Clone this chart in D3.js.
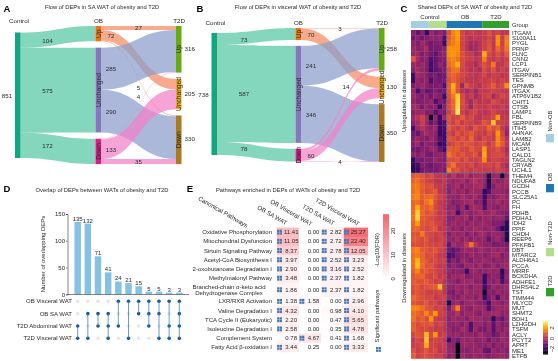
<!DOCTYPE html>
<html>
<head>
<meta charset="utf-8">
<script src="https://cdn.jsdelivr.net/npm/d3@7"></script>
<style>
  html, body { margin: 0; padding: 0; background: #fff; }
  svg { display: block; filter: blur(0.35px); }
  text { font-family: "Liberation Sans", Arial, sans-serif; fill: #2a2a2a; }
</style>
</head>
<body>
<script>
// ---- data ----
const stateNames = ['Up', 'Unchanged', 'Down'];
const saControlToOb = [104, 575, 172];
const saObToT2d = [[27, 72, 5], [285, 0, 290], [4, 133, 35]];
const visceralControlToOb = [73, 587, 78];
const visceralObToT2d = [[3, 70, 0], [241, 0, 346], [14, 60, 4]];

const groupNames = ['Non-OB', 'OB', 'Non-T2D', 'T2D'];
const upGenes = ['ITGAM', 'S100A11', 'PYGL', 'PRNP', 'FLNC', 'CNN2', 'LCP1', 'ITGAV', 'SERPINB1', 'TES', 'GPNMB', 'ITGAX', 'ATP6V1B2', 'CHIT1', 'CTSB', 'LAMP1', 'FBL', 'SERPINB9', 'ITIH5', 'AHNAK', 'LAMB2', 'MCAM', 'LASP1', 'CALD1', 'TAGLN2', 'CRYAB', 'UCHL1'];
const downGenes = ['THEM4', 'NDUFA8', 'GCDH', 'PCCB', 'SLC25A1', 'PC', 'FH', 'PDHB', 'PDHA1', 'IDH2', 'PPIF', 'CHDH', 'REEP6', 'PFKFB1', 'DBT', 'MTARC2', 'ALDH6A1', 'PCCA', 'MRRF', 'BCKDHA', 'ADHFE1', 'DHRS4L2', 'TST', 'TIMM44', 'MLYCD', 'MUT', 'SHMT2', 'BDH1', 'L2HGDH', 'TSFM', 'ACLY', 'PCYT2', 'APRT', 'ME1', 'ETFB'];
// one row per gene: 8 control samples, 8 OB, 6 T2D
const upValues = [
  [-.6,-1.2,-.6,-2,-.4,-.8,-.5,-.8,.8,1.6,2,.6,.2,.4,.3,.2,.4,.8,.3,.6,.2,.3],
  [-1,-.6,-1,-.8,-.5,-.6,-.4,-1.5,1,1.5,2,.6,.3,.1,.3,.2,.3,.6,.2,1.8,.4,1.5],
  [-.5,-.8,-.3,-.6,-1,-.8,-.6,-1.8,1.2,1.5,1.8,.5,.2,-.2,-.2,.1,.5,.8,.2,1.8,.4,1.6],
  [-.3,-.6,-.5,-.2,-1,-.9,-.8,-.6,1.8,1.8,1.8,.6,.1,-.3,-.2,.2,.5,.9,.3,1.2,.6,1.4],
  [-.4,-.3,-.8,-.5,-1,-1.3,-.7,-.5,1.8,1.9,1.7,.8,.4,.3,-.1,.2,2.3,.7,.3,.8,.3,1],
  [.9,-.2,-.7,-.6,-1.5,-1.2,-.8,-.7,1.5,1.7,1.4,.7,.5,.4,.2,.3,1.6,.4,.2,.6,.2,.5],
  [-.3,-.5,-.4,-.7,-1.6,-1.1,-.5,-.9,1.3,1.6,2.3,.7,.3,.2,-.2,.4,.8,.5,1.5,.2,.3,.6],
  [-.6,-.2,-.5,-.8,-1.7,-1.3,-1,-.8,.9,1.3,1.4,.5,.4,.1,.2,-.1,.7,.3,.8,.2,.5,.2],
  [-1.7,-.2,-.4,-.7,-1,-.8,-1.1,-1,1,1.2,.9,.6,.4,.3,.1,.3,.6,.2,.4,.4,.1,.3],
  [-1.8,-.4,-.6,-.5,-1.5,-.8,-1,-.8,.8,1.1,.8,.5,.3,.2,.2,.4,.3,.5,.5,.3,.5,.4],
  [-.8,-.5,-.3,-.6,-.9,-.9,-.7,-1.5,1.1,2.2,.9,-.3,.9,.4,.3,.1,.5,.6,1,.4,.6,1.8],
  [-.4,-1.6,-.7,-1.2,-1.1,-.7,-1,-.9,.9,2,.8,.1,-.2,.2,-.3,.3,.3,.4,.5,.4,.3,.2],
  [-.3,-.6,-.9,-.5,-1,-.5,-.7,-1.8,.8,1.5,2.6,.7,.1,.4,-.2,.2,.4,.6,-.2,.3,.6,.4],
  [-.5,-.8,-.7,-.6,-.4,-1.5,-.8,-1,.6,1.2,2.7,.8,.2,-.2,.4,.1,.3,.2,.7,.5,.2,.3],
  [-.2,-.3,-.9,-.4,-.7,-.6,-1.8,-.7,.7,1.2,2.8,.6,.3,-.4,.5,.3,.2,.5,.3,.2,.4,.1],
  [-.6,-.4,-.3,-.8,-.6,-1.4,-.7,-.9,.5,1,3,.5,.1,.5,.6,.2,.1,.3,.6,.3,.2,.1],
  [-.3,.1,.5,-.2,-2.6,-.5,-1.8,-.4,.9,.5,.6,1,.5,.7,.2,.1,.4,.4,.6,2,.3,.3],
  [-.6,-.2,.4,-.3,-1.2,-.7,-1.8,-1.5,.8,.4,.9,.3,.6,.5,.3,.4,.9,.7,2.5,.5,.4,.3],
  [-1.6,-.3,.1,-.4,-.6,-.3,-1.8,-1.6,1,.6,.4,.8,.5,.2,.9,.6,.5,1.2,.7,1.1,.3,-.2],
  [-.9,-1.2,-.5,-.2,-.5,-.6,-1.9,-1.7,.7,.3,.9,.5,.7,1,.6,.4,.3,.8,.4,1.9,.6,-.4],
  [-.8,-.4,-.6,-.8,-.3,-.7,-1.5,-1.8,.9,.8,.5,.9,.6,1.2,.4,.2,.7,.5,.3,1.7,.8,.1],
  [-.7,-.3,-1,-.5,-.6,-.9,-1.9,-1.8,.5,.6,.9,.7,.9,.8,.5,.7,.8,.3,.7,1.6,1,.2],
  [-.9,-1,-.7,-.8,-.4,-.5,-1.2,-1.7,1.1,.9,1,.6,.5,1,.7,.6,2,.5,.5,.9,.4,-.1],
  [-.5,-.7,-.4,-.9,-1,-.6,-.5,-.7,1.5,1,.7,.9,.6,.7,.9,.3,2.2,.4,.6,.7,.6,.1],
  [-1.9,-.8,-.9,-.7,-.8,-.4,-.6,-.8,.8,.7,.9,.5,.8,.4,.4,.6,1.8,.3,.5,.5,.3,.2],
  [-2,-1.6,-.7,-.9,-1.1,-.8,-.7,-.6,.9,1.4,.6,.6,.4,.7,.2,.5,.5,.6,.4,.8,.2,-.2],
  [-2.1,-1.8,-1,-.8,-.9,-.9,-.6,-.9,1.6,.7,.9,.4,.6,.3,.5,.4,.3,.4,.3,.6,.4,.1]
];
const downValues = [
  [.9,1.1,.9,.5,.8,.3,.2,.2,-.3,.1,-.4,-.3,.1,-.5,-.2,-.1,-.4,-2.2,-.5,-.3,-2.4,-.3],
  [1.1,1.3,.9,.6,.5,.2,.1,.3,-.2,-.5,-.3,-.1,-.6,-.2,.1,-.3,-.5,-2.3,-.3,-.6,-.5,-.2],
  [1.4,1.5,1.1,.8,.9,.4,.3,.2,-.5,-.4,-.1,-.7,-.3,-.4,-.2,-.1,-.6,-2,-.8,-.2,-.4,-.3],
  [1.3,1.6,1,.7,.8,1,.2,.1,-.6,-.2,-.5,-.3,-.7,-.2,-.4,-.3,-2,-1.5,-.5,-.4,-.5,-.6],
  [1.5,1.7,1,1.2,1.3,.9,.5,.3,-.4,-.5,-.6,-.1,-.4,-.5,-.2,-.6,-1.8,-.6,-.8,-.4,-.2,-.5],
  [1.2,1.3,.9,1.4,1.8,.7,.3,.2,-.3,-.8,-.6,-.4,-.3,-.1,-.7,-.5,-1.7,-.3,-.5,-.2,-.6,-.4],
  [1.2,2.2,1.1,1,1.3,.6,.4,.1,-.5,-.5,-.9,-.3,-1.3,-.4,-.2,-.3,-1.5,-.4,-.6,-.7,-.3,-.5],
  [1.3,2.6,1.2,.8,1,.7,.2,.3,-.4,-.2,-1.6,-.5,-.3,-.6,-.4,-.1,-.5,-.4,-.2,-.5,-.7,-.8],
  [1.4,2.7,1,.9,.7,.5,.3,.2,-.6,-.7,-.3,-.5,-.2,-.8,-.3,-.6,-.4,-.3,-.6,-.4,-.5,-1.2],
  [1.2,2,.9,.8,.9,.6,.5,.1,-.5,-.3,-.5,-.4,-.6,-.3,-.5,-.4,-.3,-.5,-.8,-.7,-.9,-2],
  [1.1,1.2,.8,.6,.8,.9,.2,.3,-.2,-.6,-.4,-.7,-.3,-.5,-.2,-.3,-.6,-.4,-.5,-1,-2,-2.1],
  [.9,.8,1.5,.7,.6,.4,.6,.2,-.7,-.3,-.5,-.3,-.8,-.4,-.6,-.2,-.3,-.7,-.4,-.5,-.6,-2.2],
  [1,.9,.7,.9,.5,.3,.5,.4,-.4,-.6,-.2,-.6,-.3,-.7,-.4,-.5,-.5,-1.2,-.6,-.3,-.8,-2.3],
  [.7,.8,.6,.8,.6,.5,.7,.3,-1.2,-.2,-.5,-.4,.2,1.4,.1,-.3,-.6,-.5,-.9,-.8,-.7,-.9],
  [1.5,1.6,1,.9,.7,.9,.5,.4,-1,-1.3,-1,-.5,-.3,-.4,-.6,-.2,-.4,-.6,-.3,-.5,-.3,-.7],
  [1.3,1.5,1.1,.7,.8,.6,.3,.2,-1.6,-1.4,-.8,-.6,-.7,-.3,-.5,-.4,-.7,-.5,-.4,-.2,-.8,-.5],
  [1.4,2.3,1.2,.9,.6,.7,.4,.5,-1.2,-.6,-1,-.4,-.5,-.8,-.3,-.5,-.3,-.4,-.7,-.5,-.6,-.4],
  [1.3,2.4,1.3,.8,.9,.5,.2,.3,-.8,-.5,-.7,-.9,-.4,-.3,-.6,-.2,-.8,-.6,-.3,-.7,-.4,-.3],
  [1.1,1.7,.9,1,.7,.6,.4,.2,-.4,-.7,-.5,-.6,-1.8,-.5,-.3,-.6,-.5,-.3,-.6,-.4,-2,-.6],
  [.9,1.1,1.2,.7,.5,.8,.3,.4,-.6,-.3,-.4,-.2,-.7,-.6,-.5,-.4,-1.8,-.7,-.5,-.6,-1.8,-.4],
  [1,.9,.8,1,.7,.4,.6,.1,-.3,-.5,-.8,-.4,-.3,-.2,-.6,-.5,-1.9,-.5,-.7,-.3,-1.5,-.7],
  [.8,1,.6,.8,.9,1,2.4,.3,-.5,-.6,-.3,-.5,-.4,-.7,-.3,-.4,-1.7,-.9,-.4,-.6,-.5,-.3],
  [.7,.9,.7,.5,.4,.5,.7,.2,-.7,-.9,-.4,-.6,-.2,-.5,-.4,-.3,-2.5,-.6,-.8,-.4,-.6,-.5],
  [1.2,1,.8,.6,.7,.3,.4,.5,-.4,-.6,-.7,-.3,-.5,-.4,-.7,-.2,-1.8,-.8,-.5,-1.5,-.4,-.6],
  [.9,.8,.7,.9,.5,.6,.2,.3,-2.3,-.6,-.3,-.8,-.4,-.3,-.5,-.6,-.9,-1.6,-.3,-.5,-.7,-.4],
  [1.7,1.6,1.3,.9,.8,.4,.6,.3,-.8,.2,1.6,-.4,-.5,-.6,-.2,-.4,-.5,-1.5,-.6,-.3,-.4,-.3],
  [1.3,1.2,1,1.7,1,1.9,.5,.4,-.4,-.5,.1,-.6,-.3,-.4,-.5,-.7,-.3,-.4,-.3,-.2,-.6,-.5],
  [1.4,.9,1.1,.7,1.9,.5,.3,.2,-.6,-.3,-.5,-.4,-.7,-.2,-.4,-.3,-.6,-.5,-2,-.7,-1.2,-.5],
  [1,.7,.9,.8,1,.4,.6,.3,-.5,-.6,-.4,-.7,-.3,-1.5,-.5,-.4,-.7,-.3,-1.3,-.4,-.8,-.6],
  [1.1,.8,.6,.7,.5,.3,.4,.2,-.4,-.7,-.6,-.2,-.5,-1.4,-.3,-.8,-.9,-.4,-1.4,-.5,-.7,-.4],
  [.6,.9,.8,2.3,.7,1.9,.3,.5,-.3,-.5,-.3,-.6,-.4,-.5,-.7,-.2,-.5,-.6,-1.2,-.8,-.4,-.6],
  [.3,.7,.5,2.5,.4,.6,.5,.2,-1.7,-.7,-1,-.4,-.5,-.3,-.6,-.5,-.4,-1,-.5,-.7,-.3,-.5],
  [.4,.5,.7,2.2,.6,.5,.3,.4,-.5,-.6,-2.7,-.5,-.3,-.5,-.4,-.6,-.6,-.4,-.9,-.5,-.6,-.4],
  [.8,.4,.6,.9,.5,.7,.2,.3,-.4,-.5,-2.8,-.6,-.7,-.4,-.5,-.3,-1.1,-1.2,-.4,-.6,-.5,-.7],
  [1.1,.5,.7,.8,.6,.4,.5,.1,-.6,-.4,-2.8,-.3,-.5,-.6,-.3,-.5,-.5,-.7,-.6,-.4,-.3,-.5]
];

const overlapCounts = [135, 132, 71, 41, 24, 21, 15, 5, 5, 3, 3];
const overlapSets = ['OB Visceral WAT', 'OB SA WAT', 'T2D Abdominal WAT', 'T2D Visceral WAT'];
const overlapMembers = [[2, 3], [1, 3], [1, 2], [1, 2, 3], [0, 2], [0, 3], [0, 1], [0, 1, 2], [0, 1, 3], [0, 2, 3], [0, 1, 2, 3]];

const pathwayColumns = ['OB SA WAT', 'OB Visceral WAT', 'T2D SA WAT', 'T2D Visceral WAT'];
const pathwayNames = ['Oxidative Phosphorylation', 'Mitochondrial Dysfunction', 'Sirtuin Signaling Pathway', 'Acetyl-CoA Biosynthesis I', '2-oxobutanoate Degradation I', 'Methylmalonyl Pathway', 'Branched-chain α-keto acid|Dehydrogenase Complex', 'LXR/RXR Activation', 'Valine Degradation I', 'TCA Cycle II (Eukaryotic)', 'Isoleucine Degradation I', 'Complement System', 'Fatty Acid β-oxidation I'];
const pathwayValues = [
  [11.41, 0, 2.82, 25.27], [11.05, 0, 2.72, 22.40], [8.37, 0, 2.78, 12.05], [3.97, 0, 2.52, 3.23],
  [2.90, 0, 3.16, 2.52], [3.48, 0, 2.37, 1.82], [1.86, 0, 2.37, 1.82], [1.38, 1.58, 0, 2.96],
  [4.32, 0, .98, 4.10], [2.20, 0, .47, 5.65], [2.58, 0, .35, 4.78], [.78, 4.67, .41, 1.68], [3.44, .25, 0, 3.33]
];
const pathwaySignificant = [
  [1, 0, 1, 1], [1, 0, 1, 1], [1, 0, 1, 1], [1, 0, 1, 1], [1, 0, 1, 1], [1, 0, 1, 1], [1, 0, 1, 1],
  [1, 1, 0, 1], [1, 0, 0, 1], [1, 0, 0, 1], [1, 0, 0, 1], [0, 1, 0, 1], [1, 0, 0, 1]
];

// ---- page ----
const svg = d3.select('body').append('svg').attr('width', 558).attr('height', 361);

function label(parent, x, y, str, size, anchor, rotate) {
  return parent.append('text')
    .attr('transform', `translate(${x},${y})` + (rotate ? ` rotate(${rotate})` : ''))
    .attr('text-anchor', anchor || 'middle')
    .attr('dominant-baseline', 'central')
    .attr('font-size', size || 6)
    .text(str);
}

function panelLetter(x, y, str) {
  label(svg, x, y, str, 9.5, 'middle').attr('font-weight', 'bold').style('fill', '#000');
}

// Sankey panels (d3 has no sankey in the main bundle, so ribbons are built with d3.area)
const ribbon = d3.area().x(d => d.x).y0(d => d.y0).y1(d => d.y1).curve(d3.curveBumpX);

function drawSankey(cfg) {
  const total = d3.sum(cfg.toOb);
  const size = d3.scaleLinear().domain([0, total]).range([0, cfg.height]);
  const obColors = ['#e8750f', '#8479bb', '#df1b8c'];
  const t2dColors = ['#66ac10', '#e6ab21', '#a97a1f'];
  const flowColors = ['#f58a5f', '#8a9ccb', '#f380c8'];
  const t2dTotals = d3.range(3).map(j => d3.sum(cfg.flows, f => f[j]));

  const stack = (values, top, gap) => {
    let y = top;
    return values.map(v => {
      const n = { y0: y, y1: y + size(v) };
      y = n.y1 + gap;
      return n;
    });
  };
  const obNodes = stack(cfg.toOb, cfg.obTop, cfg.obGap);
  const t2dNodes = stack(t2dTotals, cfg.t2dTop, cfg.t2dGap);
  const controlSlices = stack(cfg.toOb, cfg.controlTop, 0);

  const g = svg.append('g');

  // control -> OB
  g.selectAll(null).data(cfg.toOb).enter().append('path')
    .attr('fill', '#5bc9a6').attr('fill-opacity', 0.75)
    .attr('d', (d, i) => ribbon([
      { x: cfg.controlX + cfg.nodeW, y0: controlSlices[i].y0, y1: controlSlices[i].y1 },
      { x: cfg.obX, y0: obNodes[i].y0, y1: obNodes[i].y1 }
    ]));

  // OB -> T2D, stacked in source and target order
  const obOffset = obNodes.map(n => n.y0);
  const t2dOffset = t2dNodes.map(n => n.y0);
  const links = [];
  cfg.flows.forEach((row, i) => row.forEach((v, j) => {
    if (!v) return;
    const h = size(v);
    links.push({ i, j, v, s0: obOffset[i], s1: obOffset[i] + h, t0: t2dOffset[j], t1: t2dOffset[j] + h });
    obOffset[i] += h;
    t2dOffset[j] += h;
  }));
  g.selectAll(null).data(links).enter().append('path')
    .attr('fill', d => flowColors[d.i]).attr('fill-opacity', 0.72)
    .attr('d', d => ribbon([
      { x: cfg.obX + cfg.nodeW, y0: d.s0, y1: d.s1 },
      { x: cfg.t2dX, y0: d.t0, y1: d.t1 }
    ]));

  // nodes
  g.append('rect').attr('x', cfg.controlX).attr('y', cfg.controlTop)
    .attr('width', cfg.nodeW).attr('height', size(total)).attr('fill', '#10a67f');
  obNodes.forEach((n, i) => {
    g.append('rect').attr('x', cfg.obX).attr('y', n.y0).attr('width', cfg.nodeW)
      .attr('height', n.y1 - n.y0).attr('fill', obColors[i]);
    label(g, cfg.obX + cfg.nodeW / 2, (n.y0 + n.y1) / 2, stateNames[i], 6.6, 'middle', -90);
  });
  t2dNodes.forEach((n, i) => {
    g.append('rect').attr('x', cfg.t2dX).attr('y', n.y0).attr('width', cfg.nodeW)
      .attr('height', n.y1 - n.y0).attr('fill', t2dColors[i]);
    label(g, cfg.t2dX + cfg.nodeW / 2, (n.y0 + n.y1) / 2, stateNames[i], 6.6, 'middle', -90);
    label(g, cfg.t2dX + cfg.nodeW + cfg.valueGap, (n.y0 + n.y1) / 2 - 1, t2dTotals[i], 6.2, 'start');
  });

  // column heads and flow values
  label(g, cfg.controlX + 4, cfg.headY, 'Control', 6.2);
  label(g, cfg.obX + 3, cfg.headY, 'OB', 6.2);
  label(g, cfg.t2dX + 3, cfg.headY, 'T2D', 6.2);
  label(g, cfg.controlX - 8, cfg.controlTop + size(total) / 2, total, 6.2);
  cfg.toOb.forEach((v, i) => {
    label(g, cfg.controlX + cfg.nodeW + 27, (controlSlices[i].y0 + controlSlices[i].y1) / 2, v, 6.2);
  });
  links.forEach(d => {
    const thin = d.v < 40;
    const nudge = (cfg.nudges[d.v] || 0);
    const x = thin ? (cfg.obX + cfg.t2dX + cfg.nodeW) / 2 + (cfg.nudgeX[d.v] || 0) : cfg.obX + cfg.nodeW + 10;
    const y = (thin ? (d.s0 + d.s1 + d.t0 + d.t1) / 4 : (d.s0 + d.s1) / 2) + nudge;
    label(g, x, y, d.v, 6.2);
  });

  label(svg, cfg.titleX, 7, cfg.title, 5.8);
}

panelLetter(7, 8.5, 'A');
drawSankey({
  title: 'Flow of DEPs in SA WAT of obesity and T2D', titleX: 102,
  toOb: saControlToOb, flows: saObToT2d,
  height: 125.5, controlX: 15, obX: 95.5, t2dX: 176, nodeW: 5.5,
  controlTop: 32.5, obTop: 26, t2dTop: 26, obGap: 6.3, t2dGap: 6.3, headY: 20.5, valueGap: 3,
  nudges: { 27: 0, 5: 9, 4: -9.5, 35: 0 }, nudgeX: { 5: 0, 4: 0 }
});

panelLetter(200, 8.5, 'B');
drawSankey({
  title: 'Flow of DEPs in visceral WAT of obesity and T2D', titleX: 298,
  toOb: visceralControlToOb, flows: visceralObToT2d,
  height: 122, controlX: 211.5, obX: 295.5, t2dX: 379, nodeW: 5.5,
  controlTop: 33, obTop: 28, t2dTop: 28, obGap: 5.8, t2dGap: 6, headY: 22.5, valueGap: 2,
  nudges: { 3: 0, 14: -23, 4: 0 }, nudgeX: { 14: 6 }
});

// Panel C heatmap
panelLetter(404, 8.5, 'C');
label(svg, 475, 7, 'Shared DEPs of SA WAT of obesity and T2D', 5.8);
const heatGenes = upGenes.concat(downGenes);
const heatValues = upValues.concat(downValues);
const heatX = d3.scaleBand().domain(d3.range(22)).range([411, 509]);
const heatY = d3.scaleBand().domain(heatGenes).range([30, 358.5]);
const heatColor = d3.scaleSequential(d3.interpolateInferno).domain([-3, 3.4]);

const heat = svg.append('g');
heat.selectAll('g').data(heatValues).enter().append('g')
  .attr('transform', (d, i) => `translate(0,${heatY(heatGenes[i])})`)
  .selectAll('rect').data(d => d).enter().append('rect')
  .attr('x', (d, j) => heatX(j)).attr('width', heatX.bandwidth() + 0.3)
  .attr('height', heatY.bandwidth() + 0.3).attr('fill', d => heatColor(d));

heat.selectAll('text').data(heatGenes).enter().append('text')
  .attr('x', 512).attr('y', d => heatY(d) + heatY.bandwidth() / 2)
  .attr('dominant-baseline', 'central').attr('font-size', 6).text(d => d);

const splitX = heatX(8);
const splitY = heatY(downGenes[0]);
heat.append('line').attr('x1', splitX).attr('x2', splitX).attr('y1', 30).attr('y2', 358.5)
  .attr('stroke', '#4f80b8').attr('stroke-width', 0.9).attr('stroke-dasharray', '2.5,1.5');
heat.append('line').attr('x1', 411).attr('x2', 509).attr('y1', splitY).attr('y2', splitY)
  .attr('stroke', '#4f80b8').attr('stroke-width', 0.9).attr('stroke-dasharray', '2.5,1.5');

const groupColors = ['#a6cee3', '#1f78b4', '#b2df8a', '#33a02c'];
const groupBars = [[0, 4, 0], [4, 8, 2], [8, 16, 1], [16, 22, 3]];
groupBars.forEach(b => {
  heat.append('rect').attr('x', heatX(b[0])).attr('y', 21)
    .attr('width', heatX.step() * (b[1] - b[0])).attr('height', 7).attr('fill', groupColors[b[2]]);
});
label(svg, 430, 17, 'Control', 6);
label(svg, 465, 17, 'OB', 6);
label(svg, 496, 17, 'T2D', 6);
label(svg, 512, 25, 'Group', 5.8, 'start');
label(svg, 404, 101, 'Upregulated in diseases', 5.8, 'middle', -90);
label(svg, 404, 268, 'Downregulated in diseases', 5.8, 'middle', -90);

// group legend
const groupLegendText = [121, 177, 233, 281];
const groupLegendBox = [134, 184, 248, 288];
groupNames.forEach((name, i) => {
  label(svg, 550, groupLegendText[i], name, 5.8, 'middle', -90);
  svg.append('rect').attr('x', 546).attr('y', groupLegendBox[i]).attr('width', 8).attr('height', 8.3)
    .attr('fill', groupColors[i]);
});

// heat colour bar
const heatBarY = d3.scaleLinear().domain([-2, 2]).range([349, 328]);
const heatBar = d3.range(-3, 3.4, 0.15);
svg.append('g').selectAll('rect').data(heatBar).enter().append('rect')
  .attr('x', 543).attr('width', 5)
  .attr('y', d => heatBarY(d + 0.15)).attr('height', heatBarY(0) - heatBarY(0.15) + 0.3)
  .attr('fill', d => heatColor(d));
[-2, 0, 2].forEach(t => label(svg, 552, heatBarY(t), String(t).replace('-', '\u2212'), 5.6, 'middle', -90));

// Panel D upset plot
panelLetter(7, 188.5, 'D');
label(svg, 102, 190, 'Overlap of DEPs between WATs of obesity and T2D', 5.8);
const barX = d3.scaleBand().domain(d3.range(overlapCounts.length)).range([72.6, 184.4]).paddingInner(0.36).paddingOuter(0.18);
const barY = d3.scaleLinear().domain([0, 150]).range([294.3, 214]);
const upset = svg.append('g');
upset.selectAll('rect').data(overlapCounts).enter().append('rect')
  .attr('x', (d, i) => barX(i)).attr('y', d => barY(d))
  .attr('width', barX.bandwidth()).attr('height', d => barY(0) - barY(d)).attr('fill', '#85c1e0');
upset.selectAll('text.count').data(overlapCounts).enter().append('text').attr('class', 'count')
  .attr('x', (d, i) => barX(i) + barX.bandwidth() / 2).attr('y', d => barY(d) - 1)
  .attr('text-anchor', 'middle').attr('font-size', 6).text(d => d);

const yAxis = upset.append('g').attr('transform', 'translate(67.5,0)')
  .call(d3.axisLeft(barY).tickValues([0, 50, 100, 150]).tickSize(1.5).tickPadding(1));
yAxis.selectAll('text').attr('font-size', 6).style('font-family', '"Liberation Sans"');
yAxis.selectAll('line, path').attr('stroke', '#333').attr('stroke-width', 0.6);
upset.append('line').attr('x1', 67.5).attr('x2', 189).attr('y1', 294.5).attr('y2', 294.5)
  .attr('stroke', '#333').attr('stroke-width', 0.6);
label(svg, 43, 254, 'Number of overlapping DEPs', 5.9, 'middle', -90);

const matrixY = d3.scalePoint().domain(overlapSets).range([301.3, 338.3]);
overlapSets.forEach(s => label(svg, 72, matrixY(s), s, 6, 'end'));
overlapMembers.forEach((members, i) => {
  const cx = barX(i) + barX.bandwidth() / 2;
  overlapSets.forEach((s, k) => {
    upset.append('circle').attr('cx', cx).attr('cy', matrixY(s)).attr('r', 1.8)
      .attr('fill', members.includes(k) ? '#0d5a9e' : '#e6e6e6');
  });
  upset.append('line').attr('x1', cx).attr('x2', cx)
    .attr('y1', matrixY(overlapSets[d3.min(members)])).attr('y2', matrixY(overlapSets[d3.max(members)]))
    .attr('stroke', '#3f78b0').attr('stroke-opacity', 0.75).attr('stroke-width', 1);
});

// Panel E pathway table
panelLetter(190, 188.5, 'E');
label(svg, 288, 190, 'Pathways enriched in DEPs of WATs of obesity and T2D', 5.8);
const tableX = d3.scaleBand().domain(pathwayColumns).range([276.7, 366]);
const tableColor = d3.scaleLinear().domain([0, 27]).range(['#ffffff', '#f4636d']);
const rowH = 9.2, tallH = 14, tableTop = 227.6;
const rowTop = pathwayNames.map((name, i) => tableTop + i * rowH + (i > 6 ? tallH - rowH : 0));
const rowHeight = pathwayNames.map(name => name.includes('|') ? tallH : rowH);
const table = svg.append('g');

pathwayNames.forEach((name, i) => {
  const mid = rowTop[i] + rowHeight[i] / 2;
  const lines = name.split('|');
  lines.forEach((line, k) => {
    label(table, lines.length > 1 ? 229 : 272, mid + (k - (lines.length - 1) / 2) * 6.2, line, 6, lines.length > 1 ? 'middle' : 'end');
  });
  pathwayColumns.forEach((col, j) => {
    const x = tableX(col), v = pathwayValues[i][j];
    const w = tableX.bandwidth() + (j === 3 ? 2 : 0);
    table.append('rect').attr('x', x).attr('y', rowTop[i]).attr('width', w).attr('height', rowHeight[i] + 0.2)
      .attr('fill', tableColor(v));
    if (pathwaySignificant[i][j]) {
      [[0, 0], [2.6, 0], [0, 2.6], [2.6, 2.6]].forEach(o => {
        table.append('rect').attr('x', x + 0.4 + o[0]).attr('y', mid - 2.5 + o[1])
          .attr('width', 2.3).attr('height', 2.3).attr('fill', '#4a78b0');
      });
    }
    label(table, x + 14.5, mid, v.toFixed(2), 6);
  });
});

// table header, rotated
label(svg, 199, 197.5, 'Canonical Pathways', 6.2, 'start', 30);
const headStart = [[258, 206.5], [271, 200.5], [303, 205.5], [316, 199]];
pathwayColumns.forEach((col, j) => label(svg, headStart[j][0], headStart[j][1], col, 6.2, 'start', 30));

// FDR colour bar
const fdrY = d3.scaleLinear().domain([0, 20]).range([279, 231]);
const gradient = svg.append('defs').append('linearGradient').attr('id', 'fdr-bar')
  .attr('x1', 0).attr('x2', 0).attr('y1', 1).attr('y2', 0);
gradient.append('stop').attr('offset', 0).attr('stop-color', tableColor(0));
gradient.append('stop').attr('offset', 1).attr('stop-color', tableColor(27));
svg.append('rect').attr('x', 383).attr('y', fdrY(27)).attr('width', 6).attr('height', fdrY(0) - fdrY(27))
  .attr('fill', 'url(#fdr-bar)');
[0, 10, 20].forEach(t => label(svg, 392.5, fdrY(t), t, 5.8, 'middle', -90));
label(svg, 377, 250, '-Log10(FDR)', 5.8, 'middle', -90);
label(svg, 377, 316, 'Significant pathways', 5.8, 'middle', -90);
[[0, 0], [2.6, 0], [0, 2.6], [2.6, 2.6]].forEach(o => {
  svg.append('rect').attr('x', 376 + o[0]).attr('y', 347 + o[1]).attr('width', 2.3).attr('height', 2.3)
    .attr('fill', '#4a78b0');
});
</script>
</body>
</html>
